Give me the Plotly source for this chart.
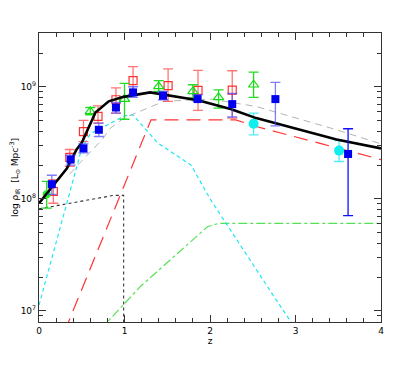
import numpy as np
import plotly.graph_objects as go

# ---- model curves (z, log10 rho) ----
total_z = [0.0, 0.19, 0.325, 0.44, 0.5, 0.66, 0.815, 0.99, 1.3, 1.86, 2.25, 2.54, 3.31, 3.48, 4.0]
total_log = [7.96, 8.14, 8.27, 8.44, 8.50, 8.77, 8.87, 8.91, 8.95, 8.88, 8.80, 8.72, 8.57, 8.53, 8.45]

gray_z = [0.36, 0.44, 0.74, 0.835, 0.99, 1.46, 2.01, 2.54, 3.48, 4.0]
gray_log = [8.22, 8.29, 8.53, 8.63, 8.72, 8.87, 8.89, 8.824, 8.616, 8.49]

cyan_z = [0.0, 0.40, 0.5, 0.6, 0.8, 1.0, 1.1, 1.385, 1.78, 2.0, 2.72, 3.0]
cyan_log = [7.05, 8.16, 8.45, 8.58, 8.66, 8.74, 8.75, 8.50, 8.30, 8.00, 7.16, 6.84]

red_line_z = [0.30, 1.31, 2.30, 2.54, 3.31, 4.0]
red_line_log = [6.816, 8.705, 8.705, 8.645, 8.49, 8.35]

green_line_z = [0.72, 0.80, 1.19, 1.97, 2.10, 4.0]
green_line_log = [6.83, 6.90, 7.22, 7.75, 7.78, 7.78]

dot_z = [0.0, 0.87, 0.99, 0.99]
dot_log = [7.91, 8.03, 8.03, 6.5]

# ---- data points (z, log10 value, log10 upper, log10 lower) ----
blue_z = [0.15, 0.37, 0.52, 0.70, 0.90, 1.10, 1.45, 1.855, 2.26, 2.765, 3.615]
blue_log = [8.13, 8.35, 8.45, 8.616, 8.815, 8.95, 8.92, 8.89, 8.845, 8.89, 8.40]
blue_hi = [8.21, 8.39, 8.49, 8.676, 8.86, 9.0, 8.958, 8.93, 8.94, 9.04, 8.625]
blue_lo = [8.04, 8.30, 8.41, 8.556, 8.765, 8.905, 8.884, 8.87, 8.73, 8.65, 7.85]

red_z = [0.168, 0.36, 0.52, 0.69, 0.90, 1.10, 1.51, 1.86, 2.26]
red_log = [8.065, 8.37, 8.60, 8.735, 8.884, 9.054, 9.01, 8.967, 8.97]
red_hi = [8.17, 8.44, 8.70, 8.83, 8.99, 9.18, 9.16, 9.146, 9.143]
red_lo = [7.96, 8.29, 8.51, 8.676, 8.765, 8.935, 8.87, 8.79, 8.72]

gtri_z = [0.60, 1.0, 1.40, 1.80, 2.10, 2.51]
gtri_log = [8.78, 8.89, 9.003, 8.958, 8.905, 9.018]
gtri_hi = [8.815, 9.03, 9.054, 9.018, 8.973, 9.13]
gtri_lo = [8.75, 8.71, 8.958, 8.90, 8.81, 8.905]

gcirc_z = [0.09]
gcirc_log = [8.04]
gcirc_hi = [8.155]
gcirc_lo = [7.917]

cyan_pt_z = [2.51, 3.51]
cyan_pt_log = [8.67, 8.43]
cyan_pt_hi = [8.765, 8.52]
cyan_pt_lo = [8.57, 8.333]

ytick_vals = [1e7, 1e8, 1e9]
ytick_text = ["10<sup>7</sup>", "10<sup>8</sup>", "10<sup>9</sup>"]
xtick_vals = [0, 1, 2, 3, 4]


def p(a):
    return [10 ** v for v in a]


def errs(c, hi, lo):
    up = [10 ** h - 10 ** m for h, m in zip(hi, c)]
    dn = [10 ** m - 10 ** l for l, m in zip(lo, c)]
    return up, dn


fig = go.Figure()

def add_line(x, y, color, dash, width):
    fig.add_trace(go.Scatter(x=x, y=p(y), mode="lines",
                             line=dict(color=color, dash=dash, width=width),
                             showlegend=False, hoverinfo="skip"))

add_line(green_line_z, green_line_log, "#55e055", "dashdot", 1.2)
add_line(red_line_z, red_line_log, "#ff3333", "14px,8px", 1.2)
add_line(cyan_z, cyan_log, "#22e6f2", "4px,3px", 1.2)
add_line(gray_z, gray_log, "#aaaaaa", "7px,5px", 0.9)
add_line(dot_z, dot_log, "#333333", "dot", 1.1)


def add_pts(x, c, hi, lo, symbol, mcolor, ecolor, size, open_=False):
    up, dn = errs(c, hi, lo)
    marker = dict(symbol=symbol, size=size, color=mcolor)
    if open_:
        marker["line"] = dict(color=mcolor, width=1.2)
    fig.add_trace(go.Scatter(
        x=x, y=p(c), mode="markers", marker=marker,
        error_y=dict(type="data", symmetric=False, array=up, arrayminus=dn,
                     color=ecolor, thickness=1.3, width=5),
        showlegend=False, hoverinfo="skip"))

add_pts(red_z, red_log, red_hi, red_lo, "square-open", "#ff3030", "rgba(255,60,60,0.7)", 8, True)
add_pts(gtri_z, gtri_log, gtri_hi, gtri_lo, "triangle-up-open", "#11dd11", "#22dd22", 9, True)
add_pts(gcirc_z, gcirc_log, gcirc_hi, gcirc_lo, "circle", "#22ee22", "#22dd22", 8)
add_pts(cyan_pt_z, cyan_pt_log, cyan_pt_hi, cyan_pt_lo, "circle", "#11eeee", "rgba(40,230,240,0.8)", 10)

add_line(total_z, total_log, "#000000", "solid", 2.6)

add_pts(blue_z[:-1], blue_log[:-1], blue_hi[:-1], blue_lo[:-1], "square", "#0000ee", "rgba(70,70,255,0.7)", 8)
add_pts(blue_z[-1:], blue_log[-1:], blue_hi[-1:], blue_lo[-1:], "square", "#0000ee", "#1010ff", 8)

minor_y = [m * 10 ** e for e in (6, 7, 8, 9) for m in range(2, 10)]

fig.update_layout(
    width=407, height=366,
    margin=dict(l=31, r=34, t=25, b=52, autoexpand=False),
    paper_bgcolor="white", plot_bgcolor="white",
    font=dict(family="DejaVu Sans", size=9, color="black"),
)
fig.update_xaxes(
    automargin=False,
    range=[0, 4], tickvals=xtick_vals, ticks="inside", ticklen=7, tickwidth=1,
    tickcolor="#333", showline=True, linecolor="#333", linewidth=1.2, mirror="allticks",
    showgrid=False, zeroline=False,
    minor=dict(dtick=0.2, tick0=0, ticks="inside", ticklen=4, tickcolor="#333", showgrid=False),
    title=dict(text="z", standoff=1, font=dict(size=9)),
    tickfont=dict(size=9),
)
fig.update_yaxes(
    automargin=False,
    type="log", range=[6.9, 9.48], tickvals=ytick_vals, ticktext=ytick_text,
    ticks="inside", ticklen=7, tickwidth=1, tickcolor="#333",
    showline=True, linecolor="#333", linewidth=1.2, mirror="allticks",
    showgrid=False, zeroline=False,
    minor=dict(tickvals=minor_y, ticks="inside", ticklen=4, tickcolor="#333", showgrid=False),
    title=dict(text="log ρ<sub>IR</sub>  [L<sub>⊙</sub> Mpc<sup>-3</sup>]", standoff=4, font=dict(size=9)),
    tickfont=dict(size=9),
)

fig.write_html("out.html")
